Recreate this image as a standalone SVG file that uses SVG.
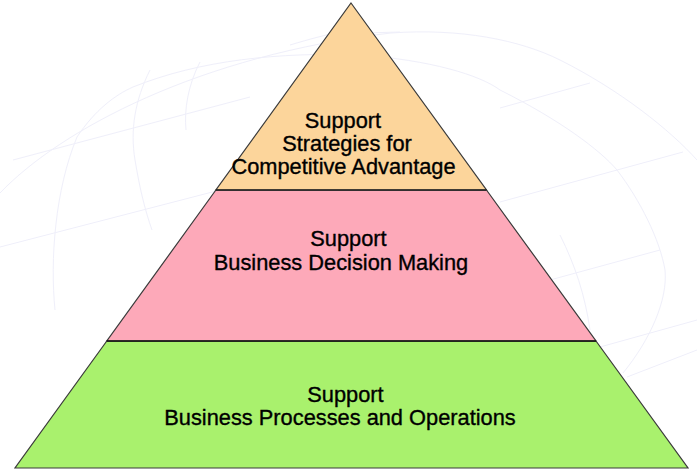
<svg xmlns="http://www.w3.org/2000/svg" width="697" height="473" viewBox="0 0 697 473">
  <style>
    .globe { fill: none; stroke: #EFEFFA; stroke-width: 1; }
    .layer { stroke: #3a3a3a; stroke-width: 1.2; stroke-linejoin: miter; }
    .lbl { font-family: "Liberation Sans", Arial, sans-serif; font-size: 21.8px; fill: #000; stroke: #000; stroke-width: 0.35; text-anchor: middle; }
  </style>
  <rect x="0" y="0" width="697" height="473" fill="#ffffff"/>
  <g id="background-globe">
    <path class="globe" d="M 0 193 C 60 130 200 55 391 33 C 460 28 520 40 560 60 C 620 90 670 130 697 160"/>
    <path class="globe" d="M 55 310 C 50 260 55 190 77 137 C 95 110 115 95 133 87 C 200 60 280 52 360 55 C 430 60 480 75 500 90 C 560 120 600 150 617 170 C 640 200 660 240 665 270 C 668 300 650 340 623 373"/>
    <path class="globe" d="M 150 70 C 135 100 130 130 135 160 C 140 190 145 210 152 230"/>
    <path class="globe" d="M 200 62 C 188 85 184 110 186 130"/>
    <path class="globe" d="M 560 235 C 575 265 585 295 590 330"/>
    <path class="globe" d="M 13 160 L 250 97"/>
    <path class="globe" d="M 0 247 L 220 190"/>
    <path class="globe" d="M 290 45 C 310 39 325 35 340 32"/>
    <path class="globe" d="M 365 33 L 400 32"/>
    <path class="globe" d="M 500 108 L 590 83"/>
    <path class="globe" d="M 500 202 L 683 152"/>
    <path class="globe" d="M 550 280 L 660 250"/>
    <path class="globe" d="M 600 347 L 697 320"/>
    <path class="globe" d="M 627 377 L 697 350"/>
  </g>
  <g id="layer-bottom">
    <polygon class="layer" fill="#A9F16D" points="106.8,341 596,341 688,468 15,468"/>
    <text class="lbl" x="345.5" y="402">Support</text>
    <text class="lbl" x="340" y="425">Business Processes and Operations</text>
  </g>
  <g id="layer-middle">
    <polygon class="layer" fill="#FDA9B9" points="215.9,190 486.5,190 596,341 106.8,341"/>
    <text class="lbl" x="348.5" y="246">Support</text>
    <text class="lbl" x="341" y="270">Business Decision Making</text>
  </g>
  <g id="layer-top">
    <polygon class="layer" fill="#FCD59B" points="351,3 486.5,190 215.9,190"/>
    <text class="lbl" x="343" y="128">Support</text>
    <text class="lbl" x="347" y="151">Strategies for</text>
    <text class="lbl" x="343.5" y="174">Competitive Advantage</text>
  </g>
  <g id="connectors">
    <line x1="106.8" y1="341" x2="596" y2="341" stroke="#111" stroke-width="1.6"/>
    <line x1="215.9" y1="190" x2="486.5" y2="190" stroke="#222" stroke-width="1.4"/>
  </g>
</svg>
